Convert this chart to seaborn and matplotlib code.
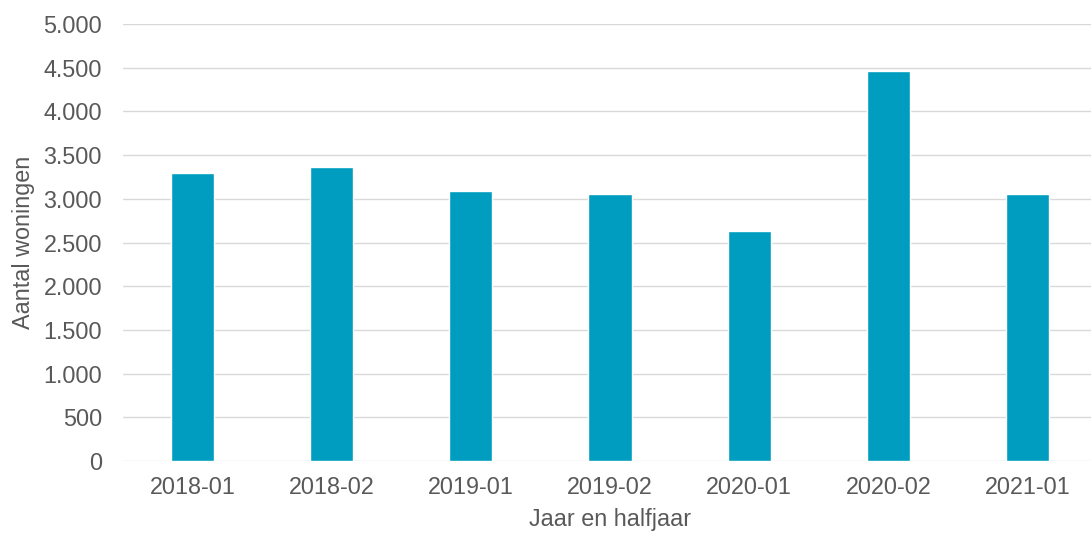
import matplotlib
matplotlib.use("Agg")
import matplotlib.pyplot as plt
import matplotlib.ticker as mticker
import seaborn as sns
import pandas as pd

# data
periods = ["2018-01", "2018-02", "2019-01", "2019-02", "2020-01", "2020-02", "2021-01"]
woningen = [3300, 3360, 3092, 3055, 2628, 4467, 3055]

bar_color = "#009DC0"
grid_color = "#D9D9D9"
text_color = "#595959"

sns.set_theme(style="white")
plt.rcParams['font.family'] = ['Liberation Sans', 'DejaVu Sans']

df = pd.DataFrame({"periode": periods, "aantal": woningen})

fig = plt.figure(figsize=(10.91, 5.35), dpi=100)
ax = fig.add_axes([123 / 1091, 1 - 461 / 535, (1097 - 123) / 1091, (461 - 24) / 535])

sns.barplot(data=df, x="periode", y="aantal", color=bar_color, width=0.31,
            saturation=1, ax=ax, zorder=3)

ax.set_ylim(0, 5000)
ax.set_xlim(-0.5, 6.5)
ax.yaxis.set_major_locator(mticker.MultipleLocator(500))
ax.yaxis.set_major_formatter(mticker.FuncFormatter(lambda v, p: f"{int(v):,}".replace(",", ".")))

ax.grid(axis="y", color=grid_color, linewidth=1.0, zorder=0)
ax.grid(axis="x", visible=False)
for s in ax.spines.values():
    s.set_visible(False)

ax.tick_params(axis="y", length=0, pad=15, labelsize=16.8, labelcolor=text_color)
ax.tick_params(axis="x", length=0, pad=11, labelsize=16.8, labelcolor=text_color)

ax.set_xlabel("Jaar en halfjaar", fontsize=16.8, color=text_color, labelpad=6)
ax.set_ylabel("Aantal woningen", fontsize=16.8, color=text_color, labelpad=6)

fig.savefig("out.png", dpi=100)
